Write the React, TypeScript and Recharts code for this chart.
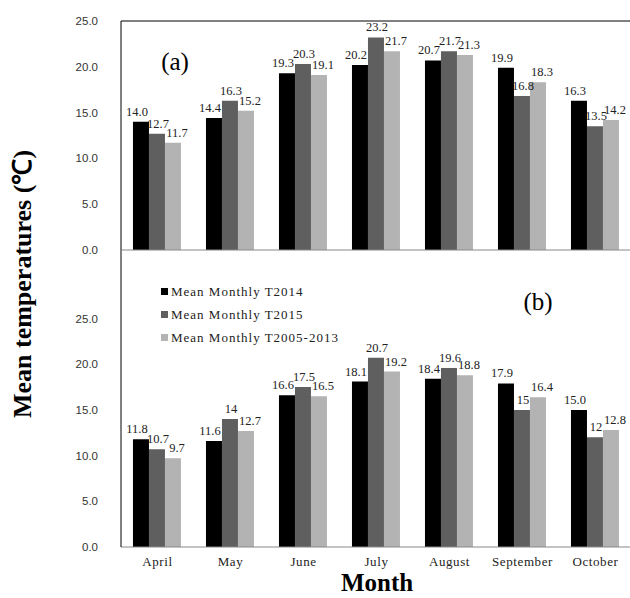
import { BarChart, Bar, XAxis, YAxis, LabelList, ReferenceLine, Legend } from 'recharts'

const months = ['April', 'May', 'June', 'July', 'August', 'September', 'October']
const seriesNames = ['Mean Monthly T2014', 'Mean Monthly T2015', 'Mean Monthly T2005-2013']
const yTicks = [0, 5, 10, 15, 20, 25]
const boundaryTicks = [1, 2, 3, 4, 5, 6]

// panel (a)
const topT2014 = [14.0, 14.4, 19.3, 20.2, 20.7, 19.9, 16.3]
const topT2015 = [12.7, 16.3, 20.3, 23.2, 21.7, 16.8, 13.5]
const topT0513 = [11.7, 15.2, 19.1, 21.7, 21.3, 18.3, 14.2]

// panel (b)
const botT2014 = [11.8, 11.6, 16.6, 18.1, 18.4, 17.9, 15.0]
const botT2015 = [10.7, 14, 17.5, 20.7, 19.6, 15, 12]
const botT0513 = [9.7, 12.7, 16.5, 19.2, 18.8, 16.4, 12.8]

const colors = ['#000000', '#5f5f5f', '#b3b3b3']

const topData = months.map((m, i) => ({ month: m, s0: topT2014[i], s1: topT2015[i], s2: topT0513[i] }))
const botData = months.map((m, i) => ({ month: m, s0: botT2014[i], s1: botT2015[i], s2: botT0513[i] }))

const serif = '"Liberation Serif", "Times New Roman", serif'
const fixed1 = (v: any) => Number(v).toFixed(1)
const plain = (v: any) => String(v)
const formatters = [fixed1, plain, plain]
// labels nudged sideways a little, as in the original figure
const labelShift = [-4, 1, 4]

const yTick = { fontFamily: '"Liberation Sans", Arial, sans-serif', fontSize: 11.5, fill: '#333' }

function renderLegend(props: any) {
  const items = [...(props.payload || [])].sort(
    (a: any, b: any) => seriesNames.indexOf(a.value) - seriesNames.indexOf(b.value)
  )
  return (
    <div style={{ fontFamily: serif, fontSize: 13, letterSpacing: 1, color: '#222' }}>
      {items.map((p: any) => (
        <div key={p.value} style={{ height: 23, display: 'flex', alignItems: 'center' }}>
          <span style={{ display: 'inline-block', width: 7, height: 7, background: p.color, marginRight: 3 }} />
          {p.value}
        </div>
      ))}
    </div>
  )
}

function makeLabel(k: number) {
  return (p: any) => (
    <text
      x={Number(p.x) + Number(p.width) / 2 + labelShift[k]}
      y={Number(p.y) - 6}
      textAnchor="middle"
      fontFamily={serif}
      fontSize={12.5}
      fill="#222"
    >
      {formatters[k](p.value)}
    </text>
  )
}

function bars() {
  return [0, 1, 2].map((k) => (
    <Bar key={k} dataKey={`s${k}`} name={seriesNames[k]} fill={colors[k]} isAnimationActive={false}>
      <LabelList dataKey={`s${k}`} content={makeLabel(k)} />
    </Bar>
  ))
}

const overlay = (extra: any) => ({
  position: 'absolute' as const,
  fontFamily: serif,
  color: '#000',
  whiteSpace: 'nowrap' as const,
  lineHeight: 1,
  transform: 'translate(-50%, -50%)',
  ...extra,
})

export default function App() {
  return (
    <div style={{ position: 'absolute', left: 0, top: 0, width: 630, height: 598, overflow: 'hidden', background: '#fff' }}>
      <div style={{ position: 'absolute', left: 0, top: 250, width: 632, height: 348 }}>
        <BarChart
          width={632}
          height={348}
          data={botData}
          margin={{ top: 0, right: 0, bottom: 21, left: 0 }}
          barCategoryGap="16.4%"
          barGap={0}
        >
          <XAxis
            dataKey="month"
            height={30}
            axisLine={false}
            tickLine={false}
            tickMargin={4}
            interval={0}
            tick={{ fontFamily: serif, fontSize: 13, fill: '#222', letterSpacing: 0.6 }}
          />
          <XAxis
            xAxisId="grid"
            type="number"
            domain={[0, 7]}
            ticks={boundaryTicks}
            mirror
            height={1}
            tick={false}
            tickSize={5}
            axisLine={{ stroke: '#888' }}
            tickLine={{ stroke: '#888' }}
          />
          <YAxis
            domain={[0, 32.5]}
            ticks={yTicks}
            width={121}
            tickLine={false}
            tickMargin={17}
            axisLine={{ stroke: '#000' }}
            tickFormatter={(v: number) => v.toFixed(1)}
            tick={yTick}
          />
          <Legend
            layout="vertical"
            align="center"
            verticalAlign="middle"
            wrapperStyle={{ left: 161, top: 30, width: 'auto', height: 'auto' }}
            content={renderLegend}
          />
          {bars()}
        </BarChart>
      </div>
      <div style={{ position: 'absolute', left: 0, top: 0, width: 632, height: 260 }}>
        <BarChart
          width={632}
          height={260}
          data={topData}
          margin={{ top: 21, right: 0, bottom: 10, left: 0 }}
          barCategoryGap="16.4%"
          barGap={0}
        >
          <XAxis dataKey="month" hide />
          <XAxis
            xAxisId="grid"
            type="number"
            domain={[0, 7]}
            ticks={boundaryTicks}
            mirror
            height={1}
            tick={false}
            tickSize={5}
            axisLine={{ stroke: '#888' }}
            tickLine={{ stroke: '#888' }}
          />
          <YAxis
            domain={[0, 25]}
            ticks={yTicks}
            width={121}
            tickLine={false}
            tickMargin={17}
            axisLine={{ stroke: '#000' }}
            tickFormatter={(v: number) => v.toFixed(1)}
            tick={yTick}
          />
          <ReferenceLine y={25} stroke="#000" />
          {bars()}
        </BarChart>
      </div>
      <div style={overlay({ left: 175, top: 61, fontSize: 25 })}>(a)</div>
      <div style={overlay({ left: 538, top: 301, fontSize: 25 })}>(b)</div>
      <div style={overlay({ left: 377, top: 583, fontSize: 25, fontWeight: 'bold', lineHeight: 0.9 })}>Month</div>
      <div style={overlay({ left: 23, top: 284, fontSize: 26, fontWeight: 'bold', transform: 'translate(-50%, -50%) rotate(-90deg)' })}>
        Mean temperatures (℃)
      </div>
    </div>
  )
}
